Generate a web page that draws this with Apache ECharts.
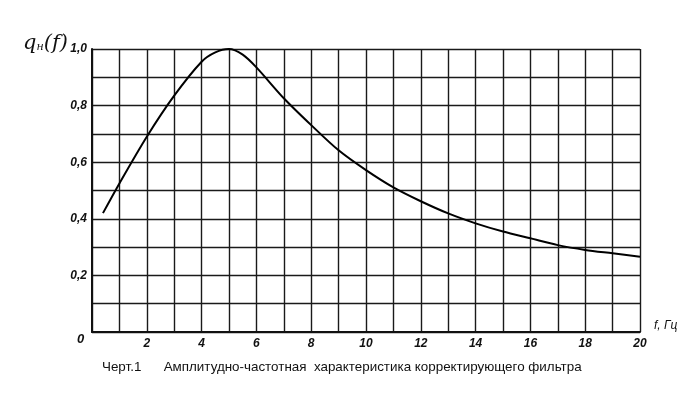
<!DOCTYPE html>
<html><head><meta charset="utf-8">
<script src="https://cdn.jsdelivr.net/npm/echarts@6/dist/echarts.min.js"></script>
<style>html,body{margin:0;padding:0;background:#fff}#c{width:700px;height:395px}</style>
</head><body><div id="c"></div>
<script>
var freq = [0.4, 1, 2, 3, 4, 4.5, 5, 5.5, 6, 7, 8, 9, 10, 11, 12, 13, 14, 15, 16, 17, 18, 19, 20];
var gain = [0.42, 0.525, 0.69, 0.835, 0.955, 0.988, 1.0, 0.98, 0.935, 0.826, 0.731, 0.642, 0.572, 0.511, 0.462, 0.419, 0.384, 0.355, 0.331, 0.307, 0.29, 0.278, 0.266];
var xTickLabels = ['2','4','6','8','10','12','14','16','18','20'];
var yTickLabels = ['0,2','0,4','0,6','0,8','1,0'];
var caption = 'Черт.1      Амплитудно-частотная  характеристика корректирующего фильтра';

var chart = echarts.init(document.getElementById('c'));
var lblFont = {fontFamily:'Liberation Sans', fontStyle:'italic', fontWeight:'bold', fontSize:12, color:'#111'};
chart.setOption({
  backgroundColor:'#fff',
  animation:false,
  grid:{left:92, right:60, top:49, bottom:63},
  title:{text:caption, left:102, top:361, padding:0, textStyle:{fontFamily:'Liberation Sans', fontSize:13.4, fontWeight:'normal', color:'#111'}},
  graphic:[
    {type:'text', left:23, top:33, style:{text:'{a|q}{b|н}{a|(f)}', rich:{a:{fontFamily:'DejaVu Serif', fontStyle:'italic', fontSize:21, fill:'#111'}, b:{fontFamily:'DejaVu Serif', fontStyle:'italic', fontSize:11, fill:'#111', padding:[8,0,0,0]}}}},
    {type:'text', left:77, top:333, style:{text:'0', font:'italic bold 13px Liberation Sans', fill:'#111'}}
  ],
  xAxis:{type:'value', min:0, max:20, interval:1,
    name:'f, Гц', nameLocation:'end', nameGap:14,
    nameTextStyle:{fontFamily:'Liberation Sans', fontStyle:'italic', fontSize:12, color:'#111', verticalAlign:'bottom'},
    axisLine:{show:true, onZero:false, lineStyle:{color:'#111', width:2}},
    axisTick:{show:false},
    splitLine:{show:true, lineStyle:{color:'#1a1a1a', width:1.4}},
    axisLabel:Object.assign({margin:6, formatter:function(v){var s=String(v);return xTickLabels.indexOf(s)>=0?s:'';}}, lblFont)
  },
  yAxis:{type:'value', min:0, max:1, interval:0.1,
    axisLine:{show:true, onZero:false, lineStyle:{color:'#111', width:2}},
    axisTick:{show:false},
    splitLine:{show:true, lineStyle:{color:'#1a1a1a', width:1.4}},
    axisLabel:Object.assign({margin:5, formatter:function(v){var s=(Math.round(v*10)/10).toFixed(1).replace('.',',');return yTickLabels.indexOf(s)>=0?s:'';}}, lblFont)
  },
  series:[{type:'line', data:freq.map(function(f,i){return [f,gain[i]];}), smooth:0.3, showSymbol:false,
    lineStyle:{color:'#000', width:2}}]
});
</script></body></html>
